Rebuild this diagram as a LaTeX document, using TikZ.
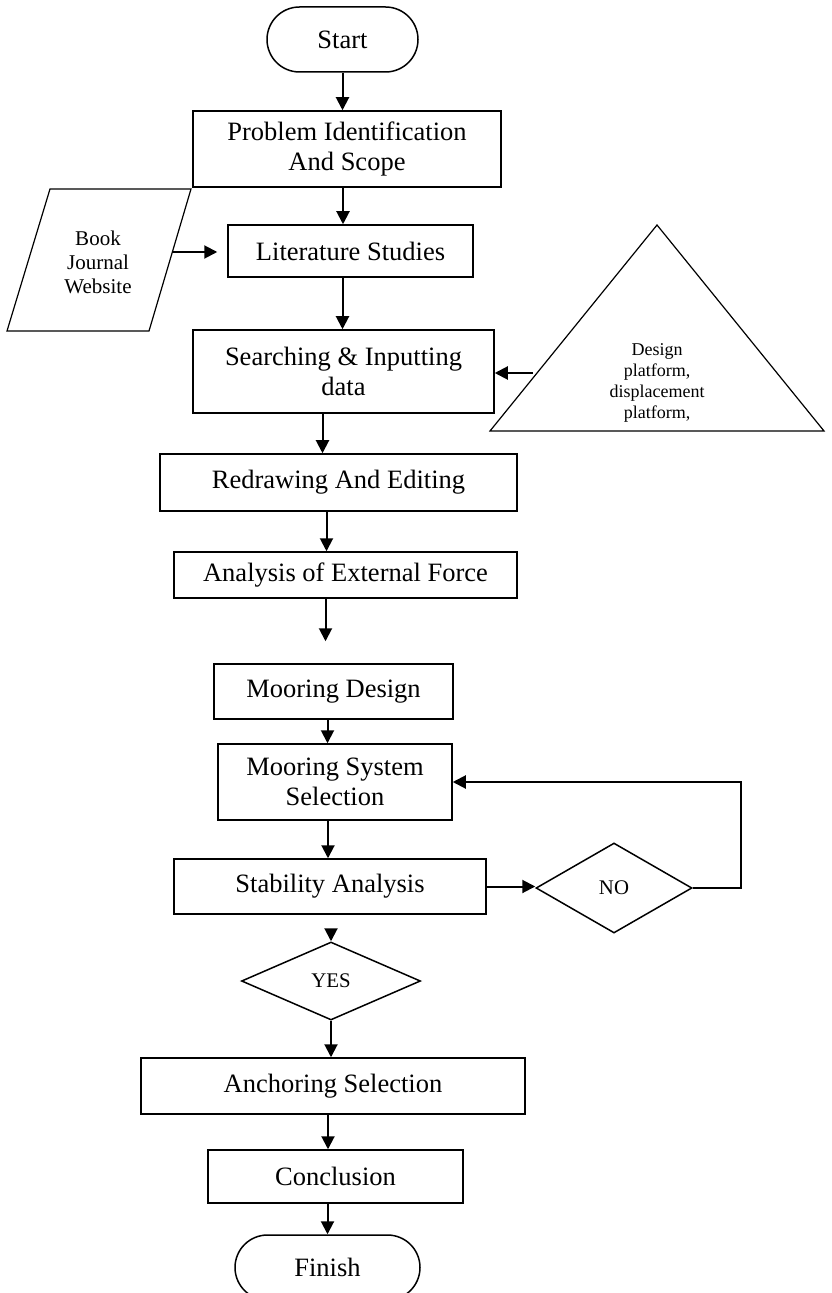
\documentclass[tikz,border=0pt]{standalone}
\usepackage{fontspec}
\setmainfont{Liberation Serif}
\usetikzlibrary{arrows.meta, shapes.geometric, shapes.misc}

\begin{document}
\begin{tikzpicture}[x=0.5pt, y=-0.5pt,
            terminal/.style={draw, rounded rectangle, line width=0.75pt, minimum height=32.5pt, inner sep=0pt, font=\fontsize{13.25}{15}\selectfont},
            box/.style={draw, line width=0.75pt, inner sep=0pt, align=center, font=\fontsize{13.25}{15}\selectfont},
            decision/.style={draw, diamond, line width=0.75pt, inner sep=0pt, font=\fontsize{10.4}{12}\selectfont},
            note/.style={align=center, inner sep=0pt},
            source/.style={line width=0.6pt, line join=miter},
            flow/.style={-{Triangle[length=6.5pt, width=6.5pt]}, line width=1pt}]

            % Page frame in pixels of the original figure
            \clip (0,0) rectangle (831,1293);

            % Main column of steps
            \node[terminal, minimum width=75.5pt] (start) at (342.5,39.5) {Start};
            \node[box, minimum width=154pt, minimum height=38pt] (problem) at (347,149) {Problem Identification\\And Scope};
            \node[box, minimum width=122.5pt, minimum height=26pt] (lit) at (350.5,251) {Literature Studies};
            \node[box, minimum width=150.5pt, minimum height=41.5pt] (search) at (343.5,371.5) {Searching \& Inputting\\data};
            \node[box, minimum width=178.5pt, minimum height=28.5pt] (redraw) at (338.5,482.5) {Redrawing And Editing};
            \node[box, minimum width=171.5pt, minimum height=23pt] (force) at (345.5,575) {Analysis of External Force};
            \node[box, minimum width=119.5pt, minimum height=27.5pt] (moordes) at (333.5,691.5) {Mooring Design};
            \node[box, minimum width=117pt, minimum height=38pt] (moorsys) at (335,782) {Mooring System\\Selection};
            \node[box, minimum width=156pt, minimum height=27.5pt] (stab) at (330,886.5) {Stability Analysis};
            \node[decision, minimum width=78pt, minimum height=45pt] (no) at (614,888) {NO};
            \node[decision, minimum width=89.5pt, minimum height=39pt] (yes) at (331,981) {YES};
            \node[box, minimum width=192pt, minimum height=28pt] (anchor) at (333,1086) {Anchoring Selection};
            \node[box, minimum width=127.5pt, minimum height=26.5pt] (concl) at (335.5,1176.5) {Conclusion};
            \node[terminal, minimum width=92.5pt] (finish) at (327.5,1267.5) {Finish};

            % Inputs on the sides
            \draw[source] (50,189) -- (191,189) -- (149,331) -- (7,331) -- cycle;
            \node[note, font=\fontsize{10.5}{12}\selectfont] (books) at (98,262) {Book\\Journal\\Website};
            \coordinate (booksout) at (173,252);

            \draw[source] (657,225) -- (824,431) -- (490,431) -- cycle;
            \node[note, font=\fontsize{9}{10.5}\selectfont] (params) at (657,383) {Design\\platform,\\displacement\\platform,};
            \coordinate (paramsout) at (533,373);

            % Arrows
            \draw[flow] (start.south) -- (start.south |- problem.north);
            \draw[flow] ([xshift=-2pt]problem.south) -- ([xshift=-2pt]problem.south |- lit.north);
            \draw[flow, shorten >=5pt] (booksout) -- (booksout -| lit.west);
            \draw[flow] ([xshift=-4pt]lit.south) -- ([xshift=-4pt]lit.south |- search.north);
            \draw[flow] (paramsout) -- (paramsout -| search.east);
            \draw[flow] ([xshift=-10.5pt]search.south) -- ([xshift=-10.5pt]search.south |- redraw.north);
            \draw[flow] ([xshift=-6pt]redraw.south) -- ([xshift=-6pt]redraw.south |- force.north);
            \draw[flow, shorten >=11pt] ([xshift=-10pt]force.south) -- ([xshift=-10pt]force.south |- moordes.north);
            \draw[flow] ([xshift=-3pt]moordes.south) -- ([xshift=-3pt]moordes.south |- moorsys.north);
            \draw[flow] ([xshift=-3.5pt]moorsys.south) -- ([xshift=-3.5pt]moorsys.south |- stab.north);
            \draw[flow] (stab.east) -- (stab.east -| no.west);

            % Loop back when not stable
            \coordinate (loopc) at (741,782);
            \draw[flow] (no.east) -| (loopc) -- (moorsys.east);

            \draw[flow, shorten <=7pt] (yes.north |- stab.south) -- (yes.north);
            \draw[flow] (yes.south) -- (yes.south |- anchor.north);
            \draw[flow] ([xshift=-2.5pt]anchor.south) -- ([xshift=-2.5pt]anchor.south |- concl.north);
            \draw[flow] (finish.north |- concl.south) -- (finish.north);
        \end{tikzpicture}
\end{document}
